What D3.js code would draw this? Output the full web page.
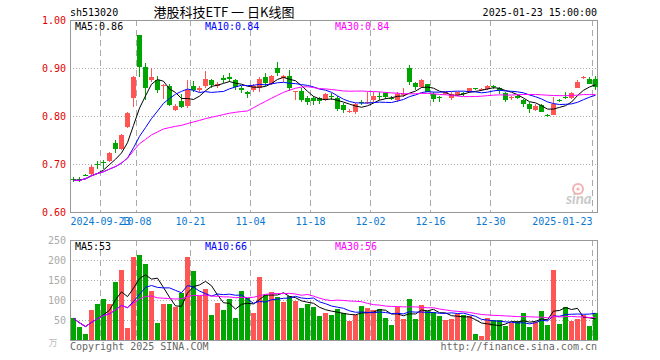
<!DOCTYPE html>
<html>
<head>
<meta charset="utf-8">
<script src="https://cdn.jsdelivr.net/npm/d3@7"></script>
<style>
  body { margin: 0; background: #fff; }
  svg { display: block; }
  text { font-family: "DejaVu Sans Mono", monospace; font-size: 10px; }
</style>
</head>
<body>
<svg width="660" height="360"></svg>
<script>
// daily bars, sh513020, 2024-09-12 .. 2025-01-23
const dates = ['09-12', '09-13', '09-18', '09-19', '09-20', '09-23', '09-24', '09-25', '09-26', '09-27', '09-30',
  '10-08', '10-09', '10-10', '10-11', '10-14', '10-15', '10-16', '10-17', '10-18', '10-21', '10-22', '10-23', '10-24', '10-25', '10-28', '10-29', '10-30', '10-31',
  '11-01', '11-04', '11-05', '11-06', '11-07', '11-08', '11-11', '11-12', '11-13', '11-14', '11-15', '11-18', '11-19', '11-20', '11-21', '11-22', '11-25', '11-26', '11-27', '11-28', '11-29',
  '12-02', '12-03', '12-04', '12-05', '12-06', '12-09', '12-10', '12-11', '12-12', '12-13', '12-16', '12-17', '12-18', '12-19', '12-20', '12-23', '12-24', '12-25', '12-26', '12-27', '12-30', '12-31',
  '01-02', '01-03', '01-06', '01-07', '01-08', '01-09', '01-10', '01-13', '01-14', '01-15', '01-16', '01-17', '01-20', '01-21', '01-22', '01-23']
const open = [0.668, 0.668, 0.678, 0.679, 0.701, 0.704, 0.706, 0.743, 0.731, 0.778, 0.838,
  0.969, 0.903, 0.875, 0.875, 0.862, 0.862, 0.812, 0.832, 0.821, 0.862, 0.854, 0.862, 0.875, 0.862, 0.879, 0.881, 0.875, 0.858,
  0.851, 0.855, 0.858, 0.881, 0.866, 0.901, 0.879, 0.884, 0.851, 0.852, 0.837, 0.838, 0.837, 0.833, 0.841, 0.838, 0.823, 0.810, 0.809, 0.830, 0.827,
  0.833, 0.842, 0.847, 0.838, 0.833, 0.845, 0.899, 0.868, 0.861, 0.866, 0.845, 0.839, 0.845, 0.837, 0.844, 0.848, 0.849, 0.858, 0.854, 0.856, 0.862, 0.858,
  0.847, 0.838, 0.842, 0.834, 0.826, 0.812, 0.823, 0.803, 0.803, 0.833, 0.839, 0.837, 0.858, 0.880, 0.877, 0.877]
const close = [0.666, 0.666, 0.676, 0.694, 0.699, 0.702, 0.723, 0.731, 0.760, 0.806, 0.882,
  0.903, 0.858, 0.882, 0.855, 0.864, 0.823, 0.821, 0.819, 0.855, 0.854, 0.858, 0.877, 0.865, 0.866, 0.874, 0.877, 0.860, 0.854,
  0.846, 0.863, 0.877, 0.868, 0.884, 0.889, 0.884, 0.858, 0.852, 0.833, 0.830, 0.831, 0.832, 0.845, 0.840, 0.815, 0.813, 0.811, 0.825, 0.827, 0.830,
  0.842, 0.841, 0.840, 0.837, 0.845, 0.846, 0.870, 0.861, 0.875, 0.849, 0.835, 0.838, 0.849, 0.845, 0.849, 0.847, 0.858, 0.857, 0.856, 0.863, 0.861, 0.852,
  0.833, 0.839, 0.837, 0.826, 0.814, 0.821, 0.809, 0.802, 0.826, 0.832, 0.838, 0.847, 0.870, 0.881, 0.866, 0.861]
const high = [0.673, 0.673, 0.679, 0.697, 0.706, 0.708, 0.725, 0.750, 0.762, 0.808, 0.884,
  0.969, 0.911, 0.899, 0.883, 0.866, 0.867, 0.825, 0.846, 0.874, 0.873, 0.862, 0.893, 0.878, 0.870, 0.885, 0.889, 0.877, 0.863,
  0.853, 0.866, 0.882, 0.889, 0.886, 0.913, 0.886, 0.896, 0.852, 0.858, 0.842, 0.842, 0.840, 0.847, 0.847, 0.842, 0.827, 0.815, 0.827, 0.834, 0.849,
  0.849, 0.849, 0.849, 0.842, 0.849, 0.858, 0.906, 0.871, 0.878, 0.867, 0.849, 0.842, 0.851, 0.849, 0.850, 0.851, 0.859, 0.858, 0.858, 0.864, 0.865, 0.860,
  0.849, 0.842, 0.843, 0.836, 0.829, 0.824, 0.825, 0.804, 0.840, 0.836, 0.849, 0.849, 0.874, 0.883, 0.881, 0.883]
const low = [0.662, 0.662, 0.674, 0.677, 0.690, 0.690, 0.705, 0.723, 0.729, 0.776, 0.819,
  0.882, 0.833, 0.871, 0.847, 0.835, 0.821, 0.811, 0.817, 0.817, 0.849, 0.850, 0.858, 0.858, 0.858, 0.868, 0.870, 0.855, 0.847,
  0.837, 0.850, 0.851, 0.862, 0.864, 0.884, 0.871, 0.852, 0.833, 0.830, 0.823, 0.822, 0.826, 0.831, 0.833, 0.811, 0.806, 0.806, 0.804, 0.823, 0.826,
  0.829, 0.833, 0.836, 0.833, 0.829, 0.840, 0.865, 0.854, 0.858, 0.849, 0.830, 0.829, 0.843, 0.834, 0.842, 0.842, 0.847, 0.854, 0.853, 0.855, 0.856, 0.846,
  0.830, 0.833, 0.835, 0.818, 0.806, 0.810, 0.808, 0.798, 0.802, 0.829, 0.836, 0.835, 0.858, 0.878, 0.866, 0.855]
// volume, 万手
const volume = [54, 32, 15, 75, 90, 102, 90, 145, 175, 30, 207,
  212, 190, 122, 42, 90, 90, 82, 117, 207, 172, 110, 127, 62, 92, 75, 102, 55, 122,
  105, 67, 157, 112, 120, 107, 95, 110, 97, 80, 90, 82, 60, 67, 62, 77, 67, 47, 62, 85, 80,
  75, 77, 55, 37, 82, 52, 102, 52, 87, 72, 70, 60, 50, 52, 65, 62, 60, 15, 10, 55, 50, 50,
  35, 42, 47, 67, 32, 45, 72, 37, 175, 40, 82, 47, 52, 62, 35, 67]

const priceTicks = [0.6, 0.7, 0.8, 0.9, 1.0]
const volTicks = [50, 100, 150, 200, 250]
const dateTicks = ['09-23', '10-08', '10-21', '11-04', '11-18', '12-02', '12-16', '12-30', '01-23']
const dateTickLabels = ['2024-09-23', '10-08', '10-21', '11-04', '11-18', '12-02', '12-16', '12-30', '2025-01-23']
const priceMALabels = ['MA5:0.86', 'MA10:0.84', 'MA30:0.84']
const volMALabels = ['MA5:53', 'MA10:66', 'MA30:56']
const maPeriods = [5, 10, 30]

const red = '#ff5555', green = '#00a600'
const maColors = ['#000', '#0000ff', '#ff00ff']
const gridColor = '#aaa', borderColor = '#999'

const svg = d3.select('svg')
const L = 70, R = 597
const pTop = 20, pBot = 212, vTop = 240, vBot = 340

const idx = d3.range(dates.length)
const x = d3.scaleBand().domain(idx).range([L, L + 6 * dates.length]).padding(0)
const cx = i => Math.round(x(i) + x.bandwidth() / 2) + 0.5
const y = d3.scaleLinear().domain([0.6, 1.0]).range([pBot, pTop])
const yv = d3.scaleLinear().domain([0, 250]).range([vBot, vTop])

const ma = (arr, n) => arr.map((d, i) => d3.mean(arr.slice(Math.max(0, i - n + 1), i + 1)))

// ---- header ----
svg.append('text').attr('x', 70).attr('y', 16).attr('fill', '#000').text('sh513020')
svg.append('text').attr('x', 224).attr('y', 17).attr('text-anchor', 'middle')
  .style('font-family', '"Noto Sans CJK SC", sans-serif').style('font-size', '13px')
  .text('港股科技ETF 一 日K线图')
svg.append('text').attr('x', 597).attr('y', 16).attr('text-anchor', 'end').text('2025-01-23 15:00:00')

// ---- watermark ----
const wm = svg.append('g').attr('opacity', 0.45)
wm.append('circle').attr('cx', 578).attr('cy', 189).attr('r', 5).attr('fill', 'none').attr('stroke', '#e55').attr('stroke-width', 2)
wm.append('circle').attr('cx', 578).attr('cy', 189).attr('r', 1.6).attr('fill', '#e55')
wm.append('text').attr('x', 566).attr('y', 204).style('font-family', 'Lato, sans-serif')
  .style('font-size', '15px').style('font-weight', 'bold').style('font-style', 'italic')
  .attr('fill', '#888').text('sina')

// ---- grids & axes, both panels ----
function panel (top, bot, yScale, ticks, fmt, labelColor, dotted) {
  const g = svg.append('g').attr('shape-rendering', 'crispEdges')
  g.selectAll('line.h').data(dotted).enter().append('line')
    .attr('x1', L).attr('x2', R)
    .attr('y1', d => Math.round(yScale(d)) + 0.5).attr('y2', d => Math.round(yScale(d)) + 0.5)
    .attr('stroke', gridColor).attr('stroke-dasharray', '1,2')
  g.selectAll('line.v').data(dateTicks).enter().append('line')
    .attr('x1', d => x(dates.indexOf(d)) + 0.5).attr('x2', d => x(dates.indexOf(d)) + 0.5)
    .attr('y1', top).attr('y2', bot)
    .attr('stroke', gridColor).attr('stroke-dasharray', '6,4')
  g.append('rect').attr('x', L + 0.5).attr('y', top + 0.5).attr('width', R - L).attr('height', bot - top)
    .attr('fill', 'none').attr('stroke', borderColor)
  g.selectAll('text').data(ticks).enter().append('text')
    .attr('x', 66).attr('y', d => yScale(d)).attr('dy', '0.35em')
    .attr('text-anchor', 'end').attr('fill', labelColor).text(fmt)
}
panel(pTop, pBot, y, priceTicks, d => d.toFixed(2), '#e00000', [0.7, 0.8, 0.9])
panel(vTop, vBot, yv, volTicks, d => d, '#aaa', [50, 100, 150, 200])

// date labels (first two overlap, as in the original)
svg.selectAll('text.date').data(dateTicks).enter().append('text')
  .attr('class', 'date')
  .attr('x', (d, i) => x(dates.indexOf(d)) + 0.5)
  .attr('y', 225)
  .attr('text-anchor', (d, i) => i === dateTicks.length - 1 ? 'end' : 'middle')
  .attr('fill', '#0a78d2')
  .text((d, i) => dateTickLabels[i])

// ---- candles ----
const isUp = i => close[i] >= open[i]
const cg = svg.append('g').attr('shape-rendering', 'crispEdges')
cg.selectAll('line').data(idx).enter().append('line')
  .attr('x1', cx).attr('x2', cx)
  .attr('y1', i => y(high[i])).attr('y2', i => y(low[i]))
  .attr('stroke', i => isUp(i) ? red : green)
cg.selectAll('rect').data(idx).enter().append('rect')
  .attr('x', i => x(i) + 0.5)
  .attr('width', x.bandwidth() - 1)
  .attr('y', i => y(Math.max(open[i], close[i])))
  .attr('height', i => Math.max(1, y(Math.min(open[i], close[i])) - y(Math.max(open[i], close[i]))))
  .attr('fill', i => isUp(i) ? red : green)

// ---- volume bars ----
svg.append('g').attr('shape-rendering', 'crispEdges')
  .selectAll('rect').data(idx).enter().append('rect')
  .attr('x', i => x(i) + 0.5)
  .attr('width', x.bandwidth() - 1)
  .attr('y', i => yv(volume[i]))
  .attr('height', i => vBot - yv(volume[i]))
  .attr('fill', i => isUp(i) ? red : green)

// ---- moving averages ----
maPeriods.forEach((n, k) => {
  const pm = ma(close, n), vm = ma(volume, n)
  svg.append('path').datum(idx)
    .attr('d', d3.line().x(cx).y(i => y(pm[i])))
    .attr('fill', 'none').attr('stroke', maColors[k]).attr('stroke-width', 1)
  svg.append('path').datum(idx)
    .attr('d', d3.line().x(cx).y(i => yv(vm[i])))
    .attr('fill', 'none').attr('stroke', maColors[k]).attr('stroke-width', 1)
  svg.append('text').attr('x', 75 + 130 * k).attr('y', 30).attr('fill', maColors[k]).text(priceMALabels[k])
  svg.append('text').attr('x', 75 + 130 * k).attr('y', 250).attr('fill', maColors[k]).text(volMALabels[k])
})

// ---- footer ----
svg.append('text').attr('x', 53).attr('y', 346).attr('text-anchor', 'middle').attr('fill', '#bbb')
  .style('font-family', '"Noto Sans CJK SC", sans-serif').style('font-size', '9px').text('万')
svg.append('text').attr('x', 70).attr('y', 350).attr('fill', '#666').text('Copyright 2025 SINA.COM')
svg.append('text').attr('x', 597).attr('y', 350).attr('text-anchor', 'end').attr('fill', '#666').text('http://finance.sina.com.cn')
</script>
</body>
</html>
